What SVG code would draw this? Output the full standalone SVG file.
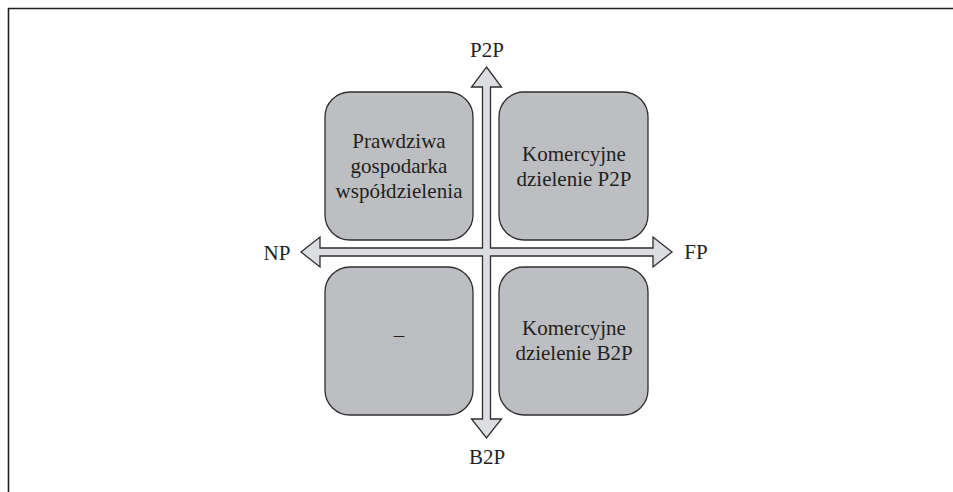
<svg xmlns="http://www.w3.org/2000/svg" width="953" height="492" viewBox="0 0 953 492">
<style>
.box{fill:#bdbec1;stroke:#2e2e2e;stroke-width:1.3}
.t{font-family:"Liberation Serif","Times New Roman",serif;font-size:21px;fill:#231f20;text-anchor:middle}
.ax{fill:#dcdde0;stroke:#2e2e2e;stroke-width:1.3;stroke-linejoin:miter}
</style>
<rect width="953" height="492" fill="#ffffff"/>
<path d="M8.5 492 L8.5 8.5 L953 8.5" fill="none" stroke="#231f20" stroke-width="1.6"/>
<g id="connectors">
<path class="ax" d="M486.5 67 L501.5 87 L490.5 87 L490.5 248 L653 248 L653 237 L672 252 L653 267 L653 256 L490.5 256 L490.5 419 L501.5 419 L486.5 438 L471.5 419 L482.5 419 L482.5 256 L320 256 L320 267 L301 252 L320 237 L320 248 L482.5 248 L482.5 87 L471.5 87 Z"/>
</g>
<g id="label-p2p"><text class="t" x="487" y="57">P2P</text></g>
<g id="label-b2p"><text class="t" x="487" y="464">B2P</text></g>
<g id="label-np"><text class="t" x="277" y="260" >NP</text></g>
<g id="label-fp"><text class="t" x="696" y="259">FP</text></g>
<g id="node-tl">
<rect class="box" x="325" y="92" width="148" height="148" rx="25"/>
<text class="t" x="399" y="148">Prawdziwa</text>
<text class="t" x="399" y="173">gospodarka</text>
<text class="t" x="399" y="198" textLength="127" lengthAdjust="spacing">współdzielenia</text>
</g>
<g id="node-tr">
<rect class="box" x="499" y="92" width="149" height="148" rx="25"/>
<text class="t" x="574" y="161">Komercyjne</text>
<text class="t" x="574" y="186">dzielenie P2P</text>
</g>
<g id="node-bl">
<rect class="box" x="325" y="267" width="148" height="148" rx="25"/>
<text class="t" x="399" y="342">–</text>
</g>
<g id="node-br">
<rect class="box" x="499" y="267" width="149" height="148" rx="25"/>
<text class="t" x="574" y="335">Komercyjne</text>
<text class="t" x="574" y="360">dzielenie B2P</text>
</g>
</svg>
